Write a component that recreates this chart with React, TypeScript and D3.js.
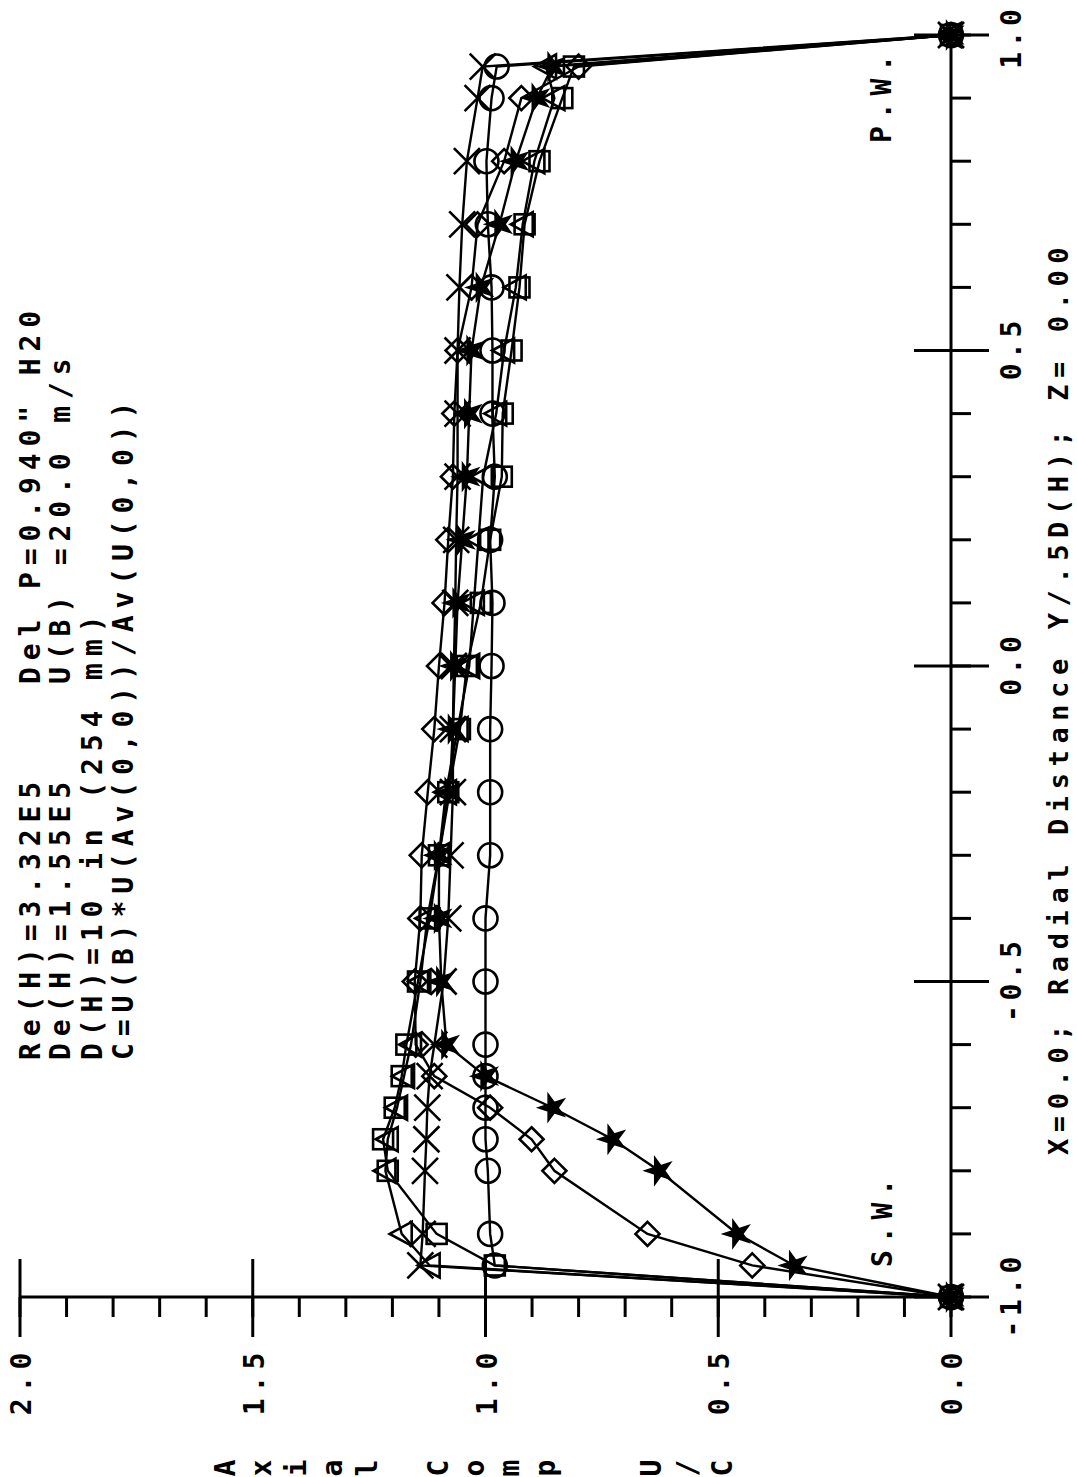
import React from "react";
import * as d3 from "d3";

// Radial positions Y/.5D(H)
const radial = [-1.0, -0.95, -0.9, -0.8, -0.75, -0.7, -0.65, -0.6, -0.5, -0.4, -0.3, -0.2, -0.1, 0.0, 0.1, 0.2, 0.3, 0.4, 0.5, 0.6, 0.7, 0.8, 0.9, 0.95, 1.0];

// Axial Comp U/C per series
const circleXH = [0, 0.98, 0.99, 0.995, 1.0, 1.0, 1.0, 1.0, 1.0, 1.0, 0.99, 0.99, 0.99, 0.987, 0.985, 0.99, 0.98, 0.985, 0.985, 0.987, 0.995, 0.998, 0.987, 0.976, 0];
const theta0 = [0, 1.14, 1.135, 1.13, 1.127, 1.125, 1.12, 1.11, 1.09, 1.08, 1.075, 1.07, 1.07, 1.068, 1.065, 1.063, 1.06, 1.06, 1.06, 1.056, 1.05, 1.04, 1.017, 1.006, 0];
const theta30 = [0, 1.12, 1.18, 1.215, 1.21, 1.19, 1.175, 1.16, 1.14, 1.125, 1.1, 1.085, 1.06, 1.035, 1.025, 1.015, 1.005, 0.977, 0.96, 0.935, 0.92, 0.895, 0.852, 0.87, 0];
const theta60 = [0, 0.98, 1.105, 1.21, 1.22, 1.195, 1.18, 1.17, 1.145, 1.12, 1.1, 1.08, 1.055, 1.04, 1.01, 0.99, 0.965, 0.963, 0.944, 0.927, 0.916, 0.884, 0.835, 0.81, 0];
const theta90 = [0, 0.337, 0.459, 0.627, 0.727, 0.856, 1.0, 1.084, 1.095, 1.1, 1.1, 1.077, 1.07, 1.065, 1.06, 1.05, 1.04, 1.035, 1.03, 1.01, 0.97, 0.935, 0.89, 0.856, 0];
const diamondXH = [0, 0.427, 0.652, 0.852, 0.901, 0.99, 1.11, 1.15, 1.152, 1.14, 1.137, 1.124, 1.11, 1.1, 1.088, 1.08, 1.07, 1.067, 1.06, 1.03, 1.017, 0.96, 0.923, 0.8, 0];

const seriesKinds = ["circle", "cross", "triangle", "square", "star", "diamond"];
const seriesValues = [circleXH, theta0, theta30, theta60, theta90, diamondXH];

const valueTicksMajor = [0, 0.5, 1.0, 1.5, 2.0];
const valueTickLabels = ["0.0", "0.5", "1.0", "1.5", "2.0"];
const radialTicksMajor = [-1, -0.5, 0, 0.5, 1];
const radialTickLabels = ["-1.0", "-0.5", "0.0", "0.5", "1.0"];

const headerLeft = ["Re(H)=3.32E5", "De(H)=1.55E5", "D(H)=10 in (254 mm)", "C=U(B)*U(Av(0,0))/Av(U(0,0))"];
const headerRight = ["Del P=0.940\" H20", "U(B) =20.0 m/s"];
const xTitle = "X=0.0; Radial Distance Y/.5D(H); Z= 0.00";
const yTitle = "Axial Comp  U/C";

const FONT = "'DejaVu Sans Mono', 'Liberation Mono', monospace";
const FS = 28;
const ADV = 0.602 * FS;

function RotText({ x, y, text, ls = 6.9, anchor = "start", fs = FS }: { x: number; y: number; text: string; ls?: number; anchor?: string; fs?: number }) {
  let yy = y;
  if (anchor === "middle") {
    const L = text.length * (0.602 * fs + ls) - ls;
    yy = y + L / 2;
  }
  return (
    <text
      transform={`translate(${x},${yy}) rotate(-90)`}
      fontFamily={FONT}
      fontWeight="bold"
      fontSize={fs}
      style={{ letterSpacing: `${ls}px`, whiteSpace: "pre" }}
      fill="#000"
    >
      {text}
    </text>
  );
}

function Marker({ kind, x, y }: { kind: string; x: number; y: number }) {
  const sw = 2.6;
  const common = { fill: "none", stroke: "#000", strokeWidth: sw };
  switch (kind) {
    case "circle":
      return <circle cx={x} cy={y} r={12} {...common} />;
    case "cross":
      return <path d={`M${x - 13},${y - 13}L${x + 13},${y + 13}M${x - 13},${y + 13}L${x + 13},${y - 13}`} {...common} />;
    case "triangle":
      return <path d={`M${x - 12},${y}L${x + 10},${y - 12}L${x + 10},${y + 12}Z`} {...common} />;
    case "square":
      return <rect x={x - 10} y={y - 10} width={20} height={20} {...common} />;
    case "diamond":
      return <path d={`M${x},${y - 12}L${x + 12},${y}L${x},${y + 12}L${x - 12},${y}Z`} {...common} />;
    case "star": {
      const p = d3.symbol().type(d3.symbolStar).size(230)() as string;
      return <path d={p} transform={`translate(${x},${y}) rotate(-90)`} fill="#000" stroke="#000" strokeWidth={1.5} />;
    }
  }
  return null;
}

export default function App() {
  const W = 1077, H = 1477;
  const vx = d3.scaleLinear().domain([0, 2]).range([951, 20]);
  const ry = d3.scaleLinear().domain([-1, 1]).range([1297, 35]);
  const line = d3
    .line<number>()
    .x((v) => vx(v))
    .y((_, i) => ry(radial[i]));

  const valueMinor = d3.range(0, 21).map((i) => i / 10);
  const radialMinor = d3.range(-10, 11).map((i) => i / 10);
  const axisY = ry(-1);
  const axisX = vx(0);

  return (
    <svg width={W} height={H} style={{ position: "absolute", left: 0, top: 0, background: "#fff" }}>
      <rect x={0} y={0} width={W} height={H} fill="#fff" />
      {/* value axis (horizontal) */}
      <line x1={vx(2)} x2={axisX} y1={axisY} y2={axisY} stroke="#000" strokeWidth={3} />
      {valueMinor.map((t) => (
        <line key={"vm" + t} x1={vx(t)} x2={vx(t)} y1={axisY} y2={axisY + 20} stroke="#000" strokeWidth={3} />
      ))}
      {valueTicksMajor.map((t) => (
        <line key={"vM" + t} x1={vx(t)} x2={vx(t)} y1={t === 0 ? axisY : axisY - 38} y2={axisY + 40} stroke="#000" strokeWidth={3} />
      ))}
      {valueTicksMajor.map((t, i) => (
        <RotText key={"vl" + t} x={vx(t) + 11} y={1384} text={valueTickLabels[i]} anchor="middle" ls={6} />
      ))}
      {/* radial axis (vertical) */}
      <line x1={axisX} x2={axisX} y1={axisY} y2={ry(1)} stroke="#000" strokeWidth={3} />
      {radialMinor.map((t) => (
        <line key={"rm" + t} x1={axisX} x2={axisX + 20} y1={ry(t)} y2={ry(t)} stroke="#000" strokeWidth={3} />
      ))}
      {radialTicksMajor.map((t) => (
        <line key={"rM" + t} x1={axisX - 37} x2={axisX + 38} y1={ry(t)} y2={ry(t)} stroke="#000" strokeWidth={3} />
      ))}
      {radialTicksMajor.map((t, i) => (
        <RotText key={"rl" + t} x={1021} y={t === 1 ? ry(t) + 4 : ry(t)} text={radialTickLabels[i]} anchor="middle" ls={4.5} />
      ))}
      {/* series lines */}
      {seriesValues.map((vals, si) => (
        <path key={"ln" + si} d={line(vals) as string} fill="none" stroke="#000" strokeWidth={2.4} />
      ))}
      {seriesValues.map((vals, si) =>
        vals.map((v, i) => <Marker key={`m${si}-${i}`} kind={seriesKinds[si]} x={vx(v)} y={ry(radial[i])} />)
      )}
      {/* header */}
      {headerLeft.map((t, i) => (
        <RotText key={"hl" + i} x={[40, 70, 102, 133][i]} y={1060} text={t} />
      ))}
      {headerRight.map((t, i) => (
        <RotText key={"hr" + i} x={[40, 70][i]} y={684} text={t} />
      ))}
      {/* wall labels */}
      <RotText x={892} y={1267} text="S.W." />
      <RotText x={891} y={143} text="P.W." />
      {/* x title */}
      <RotText x={1068} y={1155} text={xTitle} ls={6.6} fs={27} />
      {/* y title: stacked rotated characters */}
      {yTitle.split("").map((c, i) =>
        c === " " ? null : (
          <text
            key={"yt" + i}
            transform={`translate(${225 + i * 35.5 + 10},${1468}) rotate(-90)`}
            fontFamily={FONT}
            fontWeight="bold"
            fontSize={FS}
            textAnchor="middle"
            fill="#000"
          >
            {c}
          </text>
        )
      )}
    </svg>
  );
}
